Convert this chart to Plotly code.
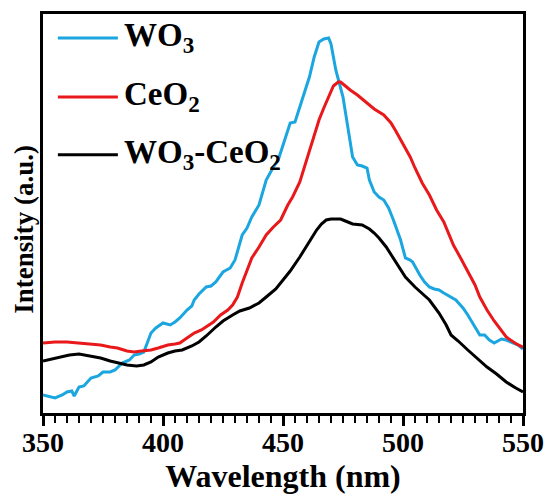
import plotly.graph_objects as go

# Wavelength (nm)
wo3_x = [350, 352, 355, 358, 360, 362, 363, 365, 367, 370, 373, 375, 378, 380, 383, 386, 388, 390, 392, 395,
         397, 400, 403, 405, 407, 410, 412, 413, 415, 418, 420, 422, 425, 428, 430, 433, 435, 437, 440, 443,
         446, 448, 450, 453, 455, 458, 461, 463, 465, 467, 469, 470, 472, 475, 477, 479, 481, 483, 485, 486,
         488, 490, 492, 494, 496, 499, 501, 503, 504, 507, 509, 511, 513, 515, 517, 520, 522, 525, 527, 530,
         532, 534, 536, 538, 541, 543, 546, 548, 550]
wo3_y = [18, 17, 15, 18, 21, 22, 17, 26, 27, 35, 37, 41, 41, 43, 50, 53, 58, 59, 61, 80,
         85, 90, 88, 91, 95, 103, 107, 113, 119, 126, 127, 131, 141, 145, 153, 178, 185, 196, 208, 233,
         246, 253, 268, 290, 291, 313, 336, 356, 371, 374, 375, 369, 343, 316, 286, 256, 248, 247, 245, 233,
         221, 216, 213, 205, 193, 173, 155, 153, 151, 138, 131, 126, 124, 123, 120, 116, 113, 105, 98, 86,
         78, 78, 73, 70, 74, 73, 70, 68, 64]

ceo2_x = [350, 355, 360, 364, 370, 374, 378, 381, 385, 388, 391, 395, 398, 402, 405, 407, 410, 413, 416, 418,
          421, 424, 427, 429, 431, 433, 435, 437, 440, 443, 446, 449, 452, 454, 457, 459, 461, 463, 465, 467,
          469, 471, 473, 474, 476, 478, 481, 485, 488, 492, 495, 497, 499, 501, 503, 505, 508, 511, 514, 517,
          521, 524, 527, 530, 532, 535, 538, 541, 543, 546, 548, 550]
ceo2_y = [70, 71, 71, 70, 69, 68, 66, 65, 62, 61, 62, 63, 65, 68, 69, 70, 75, 80, 83, 86,
          91, 98, 103, 108, 116, 130, 143, 155, 166, 178, 186, 193, 208, 216, 231, 246, 263, 278, 293, 305,
          316, 327, 331, 331, 327, 323, 318, 310, 304, 298, 290, 282, 273, 265, 256, 245, 230, 218, 203, 191,
          168, 155, 142, 128, 116, 103, 92, 83, 76, 71, 68, 66]

mix_x = [350, 354, 357, 361, 365, 369, 374, 378, 381, 385, 389, 392, 395, 398, 402, 405, 408, 412, 415, 418,
         422, 425, 429, 432, 436, 440, 443, 447, 450, 453, 457, 460, 462, 464, 466, 468, 470, 472, 474, 476,
         479, 483, 486, 488, 490, 493, 496, 498, 501, 505, 508, 511, 515, 518, 520, 523, 527, 531, 535, 539,
         543, 547, 550]
mix_y = [52, 54, 56, 58, 59, 57, 55, 52, 50, 48, 47, 48, 51, 56, 60, 62, 63, 67, 71, 77,
         86, 92, 98, 102, 105, 110, 116, 124, 133, 142, 156, 168, 176, 183, 189, 193, 194, 194, 194, 192,
         189, 188, 184, 180, 175, 166, 155, 147, 136, 126, 119, 113, 100, 88, 78, 72, 63, 54, 46, 39,
         31, 25, 21]

x_ticks = [350, 400, 450, 500, 550]
names = ["WO<sub>3</sub>", "CeO<sub>2</sub>", "WO<sub>3</sub>-CeO<sub>2</sub>"]
colors = ["#1BA6DF", "#E8181B", "#000000"]

FONT = "Liberation Serif"

fig = go.Figure()
for xs, ys, nm, c in [(wo3_x, wo3_y, names[0], colors[0]),
                      (ceo2_x, ceo2_y, names[1], colors[1]),
                      (mix_x, mix_y, names[2], colors[2])]:
    fig.add_trace(go.Scatter(x=xs, y=ys, mode="lines", name=nm,
                             line=dict(color=c, width=3), showlegend=False))

# manual legend
leg_y = [0.94, 0.792, 0.647]
for nm, c, yy in zip(names, colors, leg_y):
    fig.add_shape(type="line", xref="paper", yref="paper", x0=0.031, x1=0.156, y0=yy, y1=yy,
                  line=dict(color=c, width=3))
    fig.add_annotation(xref="paper", yref="paper", x=0.164, y=yy, text="<b>" + nm + "</b>", showarrow=False,
                       xanchor="left", yanchor="middle",
                       font=dict(family=FONT, size=33, color="black"))

# y-axis title (placed slightly below plot-centre as in the reference)
fig.add_annotation(xref="paper", yref="paper", x=-0.040, y=0.461, text="<b>Intensity (a.u.)</b>",
                   showarrow=False, textangle=-90, xanchor="center", yanchor="middle",
                   font=dict(family=FONT, size=27, color="black"))

fig.update_layout(
    width=545, height=498,
    margin=dict(l=43, r=22, t=14, b=85, autoexpand=False),
    paper_bgcolor="white", plot_bgcolor="white",
    font=dict(family=FONT, color="black"),
)
fig.update_xaxes(
    range=[350, 550], tickvals=x_ticks, ticktext=["<b>%d</b>" % v for v in x_ticks],
    showgrid=False, zeroline=False, automargin=False,
    showline=True, linecolor="black", linewidth=3, mirror=True,
    ticks="outside", ticklen=10, tickwidth=3, tickcolor="black",
    minor=dict(dtick=5, tick0=350, ticks="outside", ticklen=7, tickwidth=2, tickcolor="black"),
    tickfont=dict(family=FONT, size=28), ticklabelstandoff=-8,
    title=dict(text="<b>Wavelength (nm)</b>", font=dict(family=FONT, size=32), standoff=5),
)
fig.update_yaxes(
    range=[0, 399], showticklabels=False, ticks="",
    showgrid=False, zeroline=False, automargin=False,
    showline=True, linecolor="black", linewidth=3, mirror=True,
)

fig.write_html("out.html")
